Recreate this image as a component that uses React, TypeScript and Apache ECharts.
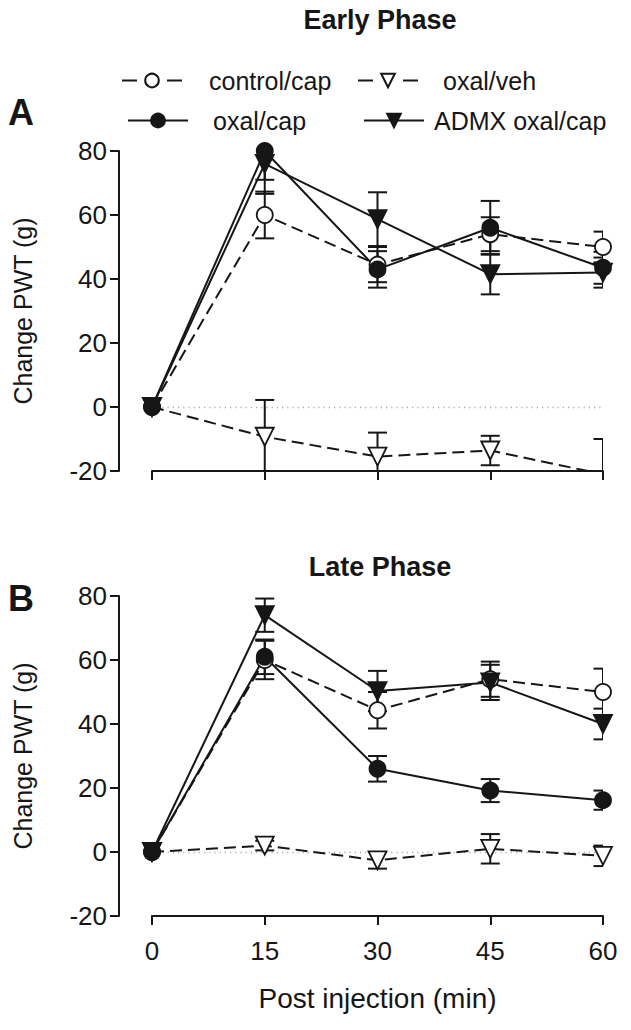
import React, { useEffect, useRef } from "react";
import * as echarts from "echarts";

// ---- data ----
const timePoints = [0, 15, 30, 45, 60];
const xTicks = [0, 15, 30, 45, 60];
const yTicks = [-20, 0, 20, 40, 60, 80];

const seriesNames = ["control/cap", "oxal/veh", "ADMX oxal/cap", "oxal/cap"];

// Early phase (A)
const earlyControlCap = [0, 60, 44.5, 54, 50];
const earlyControlCapErr = [0, 7.3, 5.5, 5.3, 4.8];
const earlyOxalVeh = [0, -9.3, -15.5, -13.6, -21];
const earlyOxalVehErr = [0, 11.5, 7.5, 4.6, 11];
const earlyAdmx = [0, 76, 58.7, 41.5, 42];
const earlyAdmxErr = [0, 5, 8.4, 6.3, 4.7];
const earlyOxalCap = [0, 80, 43, 56, 43.5];
const earlyOxalCapErr = [0, 13.4, 5.7, 8.4, 5];

// Late phase (B)
const lateControlCap = [0, 60, 44.3, 54, 50];
const lateControlCapErr = [0, 6, 5.7, 5.5, 7.3];
const lateOxalVeh = [0, 2, -2.6, 1, -1.2];
const lateOxalVehErr = [0, 1.5, 2.6, 4.6, 3.2];
const lateAdmx = [0, 74, 50.3, 53, 40];
const lateAdmxErr = [0, 5.2, 6.3, 5.5, 4.8];
const lateOxalCap = [0, 61, 26, 19.2, 16.2];
const lateOxalCapErr = [0, 5.4, 4, 3.6, 3];

const FONT = '"Liberation Sans", Arial, Helvetica, sans-serif';
const INK = "#161616";
const LW = 2;

type Style = {
  symbol: string;
  rotate: number;
  fill: string;
  dashed: boolean;
};
const styles: Record<string, Style> = {
  "control/cap": { symbol: "circle", rotate: 0, fill: "#ffffff", dashed: true },
  "oxal/veh": { symbol: "triangle", rotate: 180, fill: "#ffffff", dashed: true },
  "ADMX oxal/cap": { symbol: "triangle", rotate: 180, fill: INK, dashed: false },
  "oxal/cap": { symbol: "circle", rotate: 0, fill: INK, dashed: false },
};

function lineSeries(name: string, values: number[], idx: number, zeroLine: boolean) {
  const st = styles[name];
  const s: any = {
    name,
    type: "line",
    xAxisIndex: idx,
    yAxisIndex: idx,
    data: timePoints.map((t, i) => [t, values[i]]),
    symbol: st.symbol,
    symbolRotate: st.rotate,
    symbolSize: st.symbol === "circle" ? 16 : 18,
    clip: true,
    z: 3,
    itemStyle: { color: st.fill, borderColor: INK, borderWidth: 1.8, opacity: 1 },
    lineStyle: { color: INK, width: LW, type: st.dashed ? [12, 6] : "solid" },
    emphasis: { disabled: true },
  };
  if (zeroLine) {
    s.markLine = {
      silent: true,
      symbol: "none",
      label: { show: false },
      lineStyle: { color: "#aaaaaa", type: [1.2, 4], width: 1.4 },
      data: [{ yAxis: 0 }],
      z: 1,
    };
  }
  return s;
}

function errorSeries(values: number[], errs: number[], idx: number) {
  const data = timePoints
    .map((t, i) => [t, values[i] - errs[i], values[i] + errs[i]])
    .filter((d, i) => errs[i] > 0);
  return {
    type: "custom",
    xAxisIndex: idx,
    yAxisIndex: idx,
    clip: true,
    z: 2,
    silent: true,
    encode: { x: 0, y: [1, 2] },
    data,
    renderItem: (params: any, api: any) => {
      const x = api.value(0);
      const lo = api.coord([x, api.value(1)]);
      const hi = api.coord([x, api.value(2)]);
      const hw = 9.5;
      const style = { stroke: INK, lineWidth: LW };
      return {
        type: "group",
        children: [
          { type: "line", shape: { x1: lo[0], y1: lo[1], x2: hi[0], y2: hi[1] }, style },
          { type: "line", shape: { x1: lo[0] - hw, y1: lo[1], x2: lo[0] + hw, y2: lo[1] }, style },
          { type: "line", shape: { x1: hi[0] - hw, y1: hi[1], x2: hi[0] + hw, y2: hi[1] }, style },
        ],
      };
    },
  };
}

function axesFor(idx: number, showXLabels: boolean) {
  const x: any = {
    type: "value",
    gridIndex: idx,
    min: xTicks[0],
    max: xTicks[xTicks.length - 1],
    interval: 15,
    axisLine: { show: true, onZero: false, lineStyle: { color: INK, width: LW } },
    axisTick: { show: true, length: 9, lineStyle: { color: INK, width: LW } },
    axisLabel: {
      show: showXLabels,
      color: INK,
      fontSize: 26,
      fontFamily: FONT,
      margin: 22,
    },
    splitLine: { show: false },
  };
  if (showXLabels) {
    x.name = "Post injection (min)";
    x.nameLocation = "middle";
    x.nameGap = 68;
    x.nameTextStyle = { color: INK, fontSize: 28, fontFamily: FONT };
  }
  const y: any = {
    type: "value",
    gridIndex: idx,
    min: yTicks[0],
    max: yTicks[yTicks.length - 1],
    interval: 20,
    offset: 33,
    name: "Change PWT (g)",
    nameLocation: "middle",
    nameRotate: 90,
    nameGap: 84,
    nameTextStyle: { color: INK, fontSize: 25, fontFamily: FONT },
    axisLine: { show: true, onZero: false, lineStyle: { color: INK, width: LW } },
    axisTick: { show: true, length: 9, lineStyle: { color: INK, width: LW } },
    axisLabel: { color: INK, fontSize: 26, fontFamily: FONT, margin: 12 },
    splitLine: { show: false },
  };
  return { x, y };
}

function legendItem(name: string, left: number, top: number, gap: number, dashed: boolean) {
  return {
    data: [name],
    left,
    top,
    itemWidth: 60,
    itemHeight: 17,
    selectedMode: false,
    lineStyle: dashed ? { type: [15, 30], width: LW } : { width: LW },
    textStyle: {
      color: INK,
      fontSize: 25,
      fontFamily: FONT,
      padding: [0, 0, 0, gap],
    },
  };
}

export default function App() {
  const ref = useRef<HTMLDivElement>(null);

  useEffect(() => {
    if (!ref.current) return;
    const chart = echarts.init(ref.current, undefined, { renderer: "svg" });
    const a = axesFor(0, false);
    const b = axesFor(1, true);

    const option: any = {
      animation: false,
      backgroundColor: "#ffffff",
      textStyle: { fontFamily: FONT },
      grid: [
        { left: 152, right: 28, top: 151, height: 320 },
        { left: 152, right: 28, top: 596, height: 320 },
      ],
      xAxis: [a.x, b.x],
      yAxis: [a.y, b.y],
      legend: [
        legendItem("control/cap", 116, 63, 22, true),
        legendItem("oxal/veh", 352, 63, 20, true),
        legendItem("oxal/cap", 122, 103, 20, false),
        legendItem("ADMX oxal/cap", 358, 103, 5, false),
      ],
      graphic: [
        {
          type: "text",
          x: 380,
          y: 20,
          style: {
            text: "Early Phase",
            font: `bold 27px ${FONT}`,
            fill: INK,
            textAlign: "center",
            align: "center",
            textVerticalAlign: "middle",
            verticalAlign: "middle",
          },
        },
        {
          type: "text",
          x: 380,
          y: 567,
          style: {
            text: "Late Phase",
            font: `bold 27px ${FONT}`,
            fill: INK,
            textAlign: "center",
            align: "center",
            textVerticalAlign: "middle",
            verticalAlign: "middle",
          },
        },
        {
          type: "text",
          x: 8,
          y: 112,
          style: {
            text: "A",
            font: `bold 36px ${FONT}`,
            fill: INK,
            textVerticalAlign: "middle",
            verticalAlign: "middle",
          },
        },
        {
          type: "text",
          x: 8,
          y: 598,
          style: {
            text: "B",
            font: `bold 36px ${FONT}`,
            fill: INK,
            textVerticalAlign: "middle",
            verticalAlign: "middle",
          },
        },
      ],
      series: [
        errorSeries(earlyControlCap, earlyControlCapErr, 0),
        errorSeries(earlyOxalVeh, earlyOxalVehErr, 0),
        errorSeries(earlyAdmx, earlyAdmxErr, 0),
        errorSeries(earlyOxalCap, earlyOxalCapErr, 0),
        lineSeries(seriesNames[0], earlyControlCap, 0, false),
        lineSeries(seriesNames[1], earlyOxalVeh, 0, true),
        lineSeries(seriesNames[2], earlyAdmx, 0, false),
        lineSeries(seriesNames[3], earlyOxalCap, 0, false),
        errorSeries(lateControlCap, lateControlCapErr, 1),
        errorSeries(lateOxalVeh, lateOxalVehErr, 1),
        errorSeries(lateAdmx, lateAdmxErr, 1),
        errorSeries(lateOxalCap, lateOxalCapErr, 1),
        lineSeries(seriesNames[0], lateControlCap, 1, false),
        lineSeries(seriesNames[1], lateOxalVeh, 1, true),
        lineSeries(seriesNames[2], lateAdmx, 1, false),
        lineSeries(seriesNames[3], lateOxalCap, 1, false),
      ],
    };
    chart.setOption(option);
    return () => chart.dispose();
  }, []);

  return (
    <div
      ref={ref}
      style={{ position: "fixed", left: 0, top: 0, width: 631, height: 1030, background: "#fff" }}
    />
  );
}
